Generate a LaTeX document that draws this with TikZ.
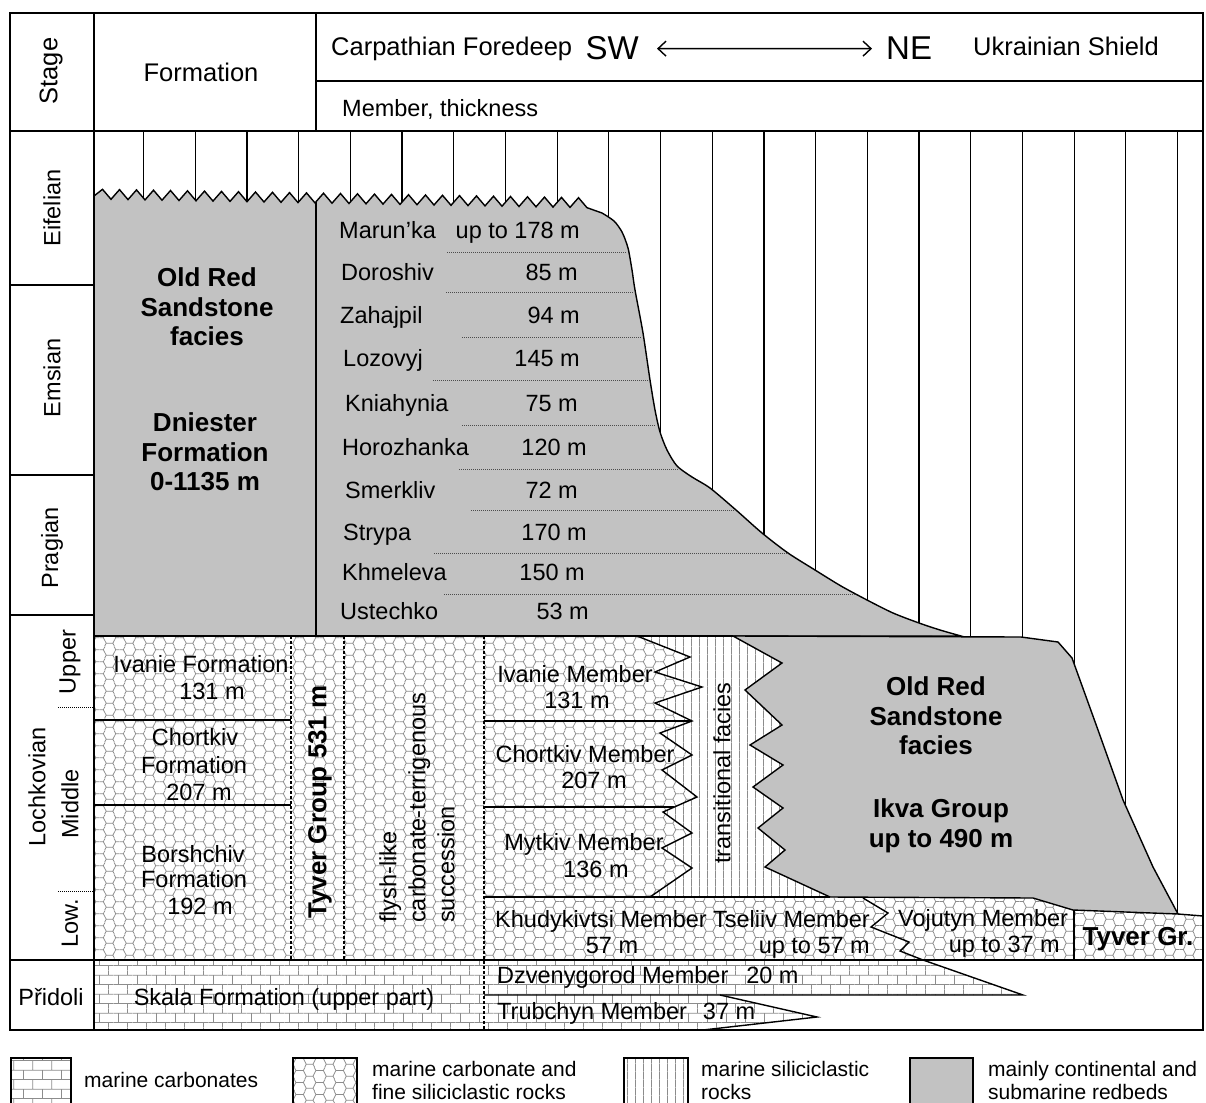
\documentclass[tikz,border=0pt]{standalone}
\usepackage{fontspec}
\setmainfont{Liberation Sans}
\usetikzlibrary{patterns,arrows.meta}
\definecolor{orsgray}{gray}{0.76}
\definecolor{patc}{gray}{0.55}
\newcommand\rtxt{\fontsize{23.5}{28}\selectfont}
\newcommand\btxt{\fontsize{26}{29.5}\selectfont\bfseries}
\newcommand\htxt{\fontsize{25.5}{30}\selectfont}
\newcommand\bigtxt{\fontsize{33}{36}\selectfont}
\newcommand\legtxt{\fontsize{21}{23}\selectfont}
\newcommand\flytxt{\fontsize{23.5}{29}\selectfont}

\pgfdeclarepatternformonly{hexes}{\pgfqpoint{0pt}{0pt}}{\pgfqpoint{20pt}{12pt}}{\pgfqpoint{20pt}{12pt}}{%
  \pgfsetlinewidth{0.8pt}%
  \pgfpathmoveto{\pgfqpoint{-0.5pt}{9pt}}%
  \pgfpathlineto{\pgfqpoint{3.5pt}{9pt}}%
  \pgfpathlineto{\pgfqpoint{6.5pt}{3pt}}%
  \pgfpathlineto{\pgfqpoint{13.5pt}{3pt}}%
  \pgfpathlineto{\pgfqpoint{16.5pt}{9pt}}%
  \pgfpathlineto{\pgfqpoint{20.5pt}{9pt}}%
  \pgfpathmoveto{\pgfqpoint{3.5pt}{9pt}}%
  \pgfpathlineto{\pgfqpoint{5.25pt}{12.5pt}}%
  \pgfpathmoveto{\pgfqpoint{4.75pt}{-0.5pt}}%
  \pgfpathlineto{\pgfqpoint{6.5pt}{3pt}}%
  \pgfpathmoveto{\pgfqpoint{14.75pt}{12.5pt}}%
  \pgfpathlineto{\pgfqpoint{16.5pt}{9pt}}%
  \pgfpathmoveto{\pgfqpoint{13.5pt}{3pt}}%
  \pgfpathlineto{\pgfqpoint{15.25pt}{-0.5pt}}%
  \pgfusepath{stroke}%
}
\pgfdeclarepatternformonly{mybricks}{\pgfqpoint{0pt}{0pt}}{\pgfqpoint{19pt}{19pt}}{\pgfqpoint{19pt}{19pt}}{%
  \pgfsetlinewidth{0.8pt}%
  \pgfpathmoveto{\pgfqpoint{-0.5pt}{4.75pt}}\pgfpathlineto{\pgfqpoint{19.5pt}{4.75pt}}%
  \pgfpathmoveto{\pgfqpoint{-0.5pt}{14.25pt}}\pgfpathlineto{\pgfqpoint{19.5pt}{14.25pt}}%
  \pgfpathmoveto{\pgfqpoint{4.75pt}{4.75pt}}\pgfpathlineto{\pgfqpoint{4.75pt}{14.25pt}}%
  \pgfpathmoveto{\pgfqpoint{14.25pt}{14.25pt}}\pgfpathlineto{\pgfqpoint{14.25pt}{19.5pt}}%
  \pgfpathmoveto{\pgfqpoint{14.25pt}{-0.5pt}}\pgfpathlineto{\pgfqpoint{14.25pt}{4.75pt}}%
  \pgfusepath{stroke}%
}
\pgfdeclarepatternformonly{vlines}{\pgfqpoint{0pt}{0pt}}{\pgfqpoint{8pt}{8pt}}{\pgfqpoint{8pt}{8pt}}{%
  \pgfsetlinewidth{0.8pt}%
  \pgfpathmoveto{\pgfqpoint{4pt}{-0.5pt}}\pgfpathlineto{\pgfqpoint{4pt}{8.5pt}}%
  \pgfusepath{stroke}%
}

\begin{document}
\begin{tikzpicture}[x=1pt,y=-1pt,
  every node/.style={inner sep=0pt,font=\rtxt},
  bt/.style={font=\btxt},
  ht/.style={font=\htxt},
  lt/.style={font=\legtxt},
  ln/.style={line width=1.4pt},
  gridln/.style={line width=1.2pt},
  dsh/.style={line width=1.1pt,dash pattern=on 3pt off 2pt},
  dotln/.style={line width=1pt,dash pattern=on 1pt off 1pt,black!70},
  hexfill/.style={preaction={fill=white},pattern=hexes,pattern color=patc},
  brickfill/.style={preaction={fill=white},pattern=mybricks,pattern color=patc},
  vfill/.style={preaction={fill=white},pattern=vlines,pattern color=patc},
  arr/.style={line width=1.4pt,<->,>={Straight Barb[length=8pt,width=15pt]}}
]
\useasboundingbox (0,0) rectangle (1206,1102);
\fill[white] (0,0) rectangle (1206,1102);

% vertical grid lines
\foreach \k in {0,...,20} \draw[gridln] ({143.5+51.7*\k},131) -- ({143.5+51.7*\k},916);

% upper Old Red Sandstone facies
\filldraw[fill=orsgray,ln] (94,636) -- (94,196)
  \foreach \i in {1,...,29} { -- ({94+17*\i-8.5},{189+0.3*\i}) -- ({94+17*\i},{199+0.3*\i}) }
  -- plot[smooth,tension=0.45] coordinates {(602,213) (614,221) (622,232) (628,248) (632,270) (635,290) (643,333) (650,380) (655,410) (660,432) (667,450) (677,466) (692,477) (710,488) (736,510) (762,533) (788,553) (815,570) (841,586) (867,600) (893,613) (919,623) (940,630) (961,636)}
  -- cycle;

% dotted member boundaries
\draw[dotln] (447,252) -- (627,252);
\draw[dotln] (446,292) -- (634,292);
\draw[dotln] (462,337) -- (642,337);
\draw[dotln] (433,380) -- (649,380);
\draw[dotln] (462,425) -- (656,425);
\draw[dotln] (459,469) -- (679,469);
\draw[dotln] (471,510) -- (734,510);
\draw[dotln] (434,553) -- (788,553);
\draw[dotln] (444,594) -- (855,594);
\draw[ln] (316,202) -- (316,636);

% Lochkovian regions
\path[hexfill] (94,636) rectangle (484,960);
\path[hexfill] (484,636) -- (637,636) -- (690,657) -- (655,672) -- (702,687) -- (655,703) -- (692,721) -- (660,733) -- (692,755) -- (662,770) -- (697,797) -- (663,812) -- (692,833) -- (662,848) -- (692,868) -- (650,897) -- (484,897) -- cycle;
\path[hexfill] (484,897) -- (1033,898) -- (1073,910) -- (1178,914) -- (1203,916) -- (1203,960) -- (484,960) -- cycle;
\path[vfill] (637,636) -- (690,657) -- (655,672) -- (702,687) -- (655,703) -- (692,721) -- (660,733) -- (692,755) -- (662,770) -- (697,797) -- (663,812) -- (692,833) -- (662,848) -- (692,868) -- (650,897) -- (830,897) -- (765,867) -- (785,850) -- (758,828) -- (783,808) -- (753,787) -- (783,765) -- (750,745) -- (782,725) -- (745,690) -- (782,663) -- (733,636) -- cycle;
\filldraw[fill=orsgray,ln] (733,636) -- (1021,637) -- (1058,642) -- (1072,658) -- (1098,730) -- (1123,800) -- (1153,867) -- (1178,914) -- (1073,910) -- (1033,898) -- (830,897) -- (765,867) -- (785,850) -- (758,828) -- (783,808) -- (753,787) -- (783,765) -- (750,745) -- (782,725) -- (745,690) -- (782,663) -- cycle;

% Pridoli bricks
\path[brickfill] (94,960) -- (923,960) -- (1023,995) -- (720,995) -- (817,1017) -- (703,1030) -- (94,1030) -- cycle;
\draw[ln] (923,960) -- (1023,995) -- (484,995);
\draw[ln] (720,995) -- (817,1017) -- (703,1030);

% lines in Lochkovian
\draw[ln] (637,636) -- (690,657) -- (655,672) -- (702,687) -- (655,703) -- (692,721) -- (660,733) -- (692,755) -- (662,770) -- (697,797) -- (663,812) -- (692,833) -- (662,848) -- (692,868) -- (650,897);
\draw[ln] (484,721) -- (692,721);
\draw[ln] (484,807) -- (674,807);
\draw[ln] (94,720) -- (291,720);
\draw[ln] (94,805) -- (291,805);
\draw[ln] (484,897) -- (830,897);
\draw[ln] (1178,914) -- (1203,916);
\draw[ln] (1074,910) -- (1074,960);
\draw[ln] (863,898) -- (888,913) -- (871,927) -- (909,942) -- (900,951) -- (923,960);
\draw[dsh] (291,636) -- (291,960);
\draw[dsh] (344,636) -- (344,960);
\draw[dsh] (484,636) -- (484,1030);
\draw[dotln,black] (58,707) -- (94,707);
\draw[dotln,black] (58,891) -- (94,891);

% frame
\draw[ln] (10,13) rectangle (1203,1030);
\draw[ln] (94,13) -- (94,1030);
\draw[ln] (316,13) -- (316,131);
\draw[ln] (316,81) -- (1203,81);
\draw[ln] (10,131) -- (1203,131);
\draw[ln] (10,285) -- (94,285);
\draw[ln] (10,475) -- (94,475);
\draw[ln] (10,615) -- (94,615);
\draw[ln] (94,636) -- (733,636);
\draw[ln] (10,960) -- (1203,960);

% header text
\node[ht,rotate=90] (stage) at (51,71) {Stage};
\node[ht,anchor=base] (formation) at (201,82) {Formation};
\node[ht,anchor=base west] (carp) at (331,56) {Carpathian Foredeep};
\node[font=\bigtxt,anchor=base east] (sw) at (639,60) {SW};
\node[font=\bigtxt,anchor=base west] (ne) at (886,60) {NE};
\node[ht,anchor=base west] (ukr) at (973,56) {Ukrainian Shield};
\draw[arr] ([xshift=18pt]sw.east) -- ([xshift=-14pt]ne.west);
\node[anchor=base west] (memth) at (342,117) {Member, thickness};

% stages
\node[rotate=90] (eif) at (52,208) {Eifelian};
\node[rotate=90] (ems) at (52,378) {Emsian};
\node[rotate=90] (pra) at (52,548) {Pragian};
\node[rotate=90] (loch) at (37,787) {Lochkovian};
\node[rotate=90] (upp) at (70,662) {Upper};
\node[rotate=90] (midl) at (70,804) {Middle};
\node[rotate=90] (lowl) at (70,923) {Low.};
\node[anchor=base] (prid) at (51,1005) {Přidoli};

% upper facies text
\node[bt,align=center] (ors1) at (207,307) {Old Red\\Sandstone\\facies};
\node[bt,align=center] (dnf) at (205,452) {Dniester\\Formation\\0-1135 m};

% members list
\node[anchor=base west] (m1) at (339,238) {Marun’ka};
\node[anchor=base east] (t1) at (580,238) {up to 178 m};
\node[anchor=base west] (m2) at (341,280) {Doroshiv};
\node[anchor=base east] (t2) at (578,280) {85 m};
\node[anchor=base west] (m3) at (340,323) {Zahajpil};
\node[anchor=base east] (t3) at (580,323) {94 m};
\node[anchor=base west] (m4) at (343,366) {Lozovyj};
\node[anchor=base east] (t4) at (580,366) {145 m};
\node[anchor=base west] (m5) at (345,411) {Kniahynia};
\node[anchor=base east] (t5) at (578,411) {75 m};
\node[anchor=base west] (m6) at (342,455) {Horozhanka};
\node[anchor=base east] (t6) at (587,455) {120 m};
\node[anchor=base west] (m7) at (345,498) {Smerkliv};
\node[anchor=base east] (t7) at (578,498) {72 m};
\node[anchor=base west] (m8) at (343,540) {Strypa};
\node[anchor=base east] (t8) at (587,540) {170 m};
\node[anchor=base west] (m9) at (342,580) {Khmeleva};
\node[anchor=base east] (t9) at (585,580) {150 m};
\node[anchor=base west] (m10) at (340,619) {Ustechko};
\node[anchor=base east] (t10) at (589,619) {53 m};

% Lochkovian left
\node[anchor=base] (ivf) at (201,672) {Ivanie Formation};
\node[anchor=base] (ivft) at (212,699) {131 m};
\node[anchor=base] (chf1) at (195,745) {Chortkiv};
\node[anchor=base] (chf2) at (194,773) {Formation};
\node[anchor=base] (chf3) at (199,800) {207 m};
\node[anchor=base] (bof1) at (193,862) {Borshchiv};
\node[anchor=base] (bof2) at (194,887) {Formation};
\node[anchor=base] (bof3) at (200,914) {192 m};
\node[bt,rotate=90] (tyg) at (320,802) {Tyver Group 531 m};
\node[font=\flytxt,rotate=90,anchor=west,align=left] (flysh) at (417,923) {flysh-like\\carbonate-terrigenous\\succession};

% Lochkovian right members
\node[anchor=base] (ivm) at (575,682) {Ivanie Member};
\node[anchor=base] (ivmt) at (577,708) {131 m};
\node[anchor=base] (chm) at (585,762) {Chortkiv Member};
\node[anchor=base] (chmt) at (594,788) {207 m};
\node[anchor=base] (mym) at (584,850) {Mytkiv Member};
\node[anchor=base] (mymt) at (596,877) {136 m};
\node[rotate=90] (trans) at (722,773) {transitional facies};
\node[anchor=base west] (khm) at (495,927) {Khudykivtsi Member};
\node[anchor=base] (khmt) at (612,953) {57 m};
\node[anchor=base east] (tsm) at (870,927) {Tseliiv Member};
\node[anchor=base east] (tsmt) at (870,953) {up to 57 m};
\node[anchor=base west] (vom) at (898,926) {Vojutyn Member};
\node[anchor=base east] (vomt) at (1060,952) {up to 37 m};
\node[bt,anchor=base] (tygr) at (1138,945) {Tyver Gr.};
\node[bt,align=center] (ors2) at (936,716) {Old Red\\Sandstone\\facies};
\node[bt,align=center] (ikva) at (941,826) {Ikva Group\\up to 490 m};

% Pridoli
\node[anchor=base] (skala) at (284,1005) {Skala Formation (upper part)};
\node[anchor=base west] (dzv) at (497,983) {Dzvenygorod Member\hspace{18pt}20 m};
\node[anchor=base west] (trb) at (497,1019) {Trubchyn Member\hspace{16pt}37 m};

% legend
\draw[brickfill,ln] (11,1058) rectangle (71,1110);
\node[lt,anchor=base west] (lg1) at (84,1087) {marine carbonates};
\draw[hexfill,ln] (293,1058) rectangle (357,1110);
\node[lt,anchor=west,align=left] (lg2) at (372,1080) {marine carbonate and\\fine siliciclastic rocks};
\draw[vfill,ln] (624,1058) rectangle (688,1110);
\node[lt,anchor=west,align=left] (lg3) at (701,1080) {marine siliciclastic\\rocks};
\draw[fill=orsgray,ln] (910,1058) rectangle (973,1110);
\node[lt,anchor=west,align=left] (lg4) at (988,1080) {mainly continental and\\submarine redbeds};
\end{tikzpicture}
\end{document}
